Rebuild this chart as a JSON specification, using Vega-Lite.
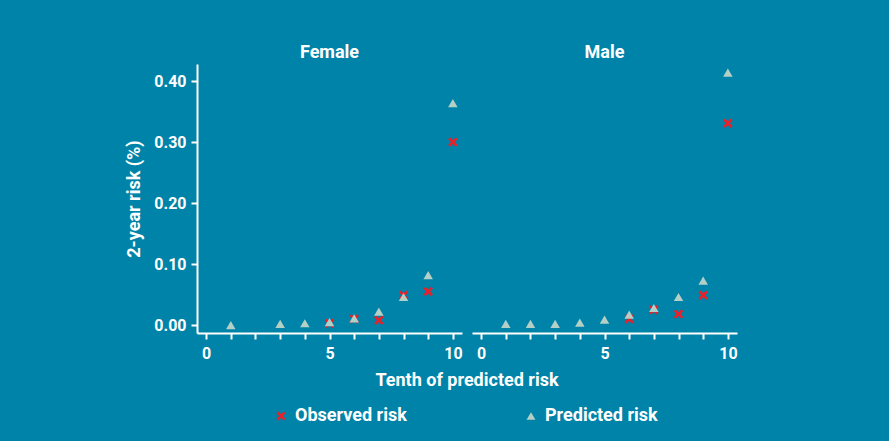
{
  "$schema": "https://vega.github.io/schema/vega-lite/v6.json",
  "background": "#0083a8",
  "padding": {"left": 125, "top": 44, "right": 152, "bottom": 16},
  "data": {
    "values": [
      {"sex": "Female", "decile": 1, "series": "Predicted risk", "risk": 0.000},
      {"sex": "Female", "decile": 3, "series": "Predicted risk", "risk": 0.002},
      {"sex": "Female", "decile": 4, "series": "Predicted risk", "risk": 0.003},
      {"sex": "Female", "decile": 5, "series": "Observed risk", "risk": 0.003},
      {"sex": "Female", "decile": 5, "series": "Predicted risk", "risk": 0.005},
      {"sex": "Female", "decile": 6, "series": "Observed risk", "risk": 0.010},
      {"sex": "Female", "decile": 6, "series": "Predicted risk", "risk": 0.011},
      {"sex": "Female", "decile": 7, "series": "Observed risk", "risk": 0.008},
      {"sex": "Female", "decile": 7, "series": "Predicted risk", "risk": 0.022},
      {"sex": "Female", "decile": 8, "series": "Observed risk", "risk": 0.049},
      {"sex": "Female", "decile": 8, "series": "Predicted risk", "risk": 0.046},
      {"sex": "Female", "decile": 9, "series": "Observed risk", "risk": 0.055},
      {"sex": "Female", "decile": 9, "series": "Predicted risk", "risk": 0.082},
      {"sex": "Female", "decile": 10, "series": "Observed risk", "risk": 0.300},
      {"sex": "Female", "decile": 10, "series": "Predicted risk", "risk": 0.364},
      {"sex": "Male", "decile": 1, "series": "Predicted risk", "risk": 0.002},
      {"sex": "Male", "decile": 2, "series": "Predicted risk", "risk": 0.002},
      {"sex": "Male", "decile": 3, "series": "Predicted risk", "risk": 0.002},
      {"sex": "Male", "decile": 4, "series": "Predicted risk", "risk": 0.004},
      {"sex": "Male", "decile": 5, "series": "Predicted risk", "risk": 0.009},
      {"sex": "Male", "decile": 6, "series": "Observed risk", "risk": 0.010},
      {"sex": "Male", "decile": 6, "series": "Predicted risk", "risk": 0.017},
      {"sex": "Male", "decile": 7, "series": "Observed risk", "risk": 0.025},
      {"sex": "Male", "decile": 7, "series": "Predicted risk", "risk": 0.028},
      {"sex": "Male", "decile": 8, "series": "Observed risk", "risk": 0.018},
      {"sex": "Male", "decile": 8, "series": "Predicted risk", "risk": 0.046},
      {"sex": "Male", "decile": 9, "series": "Observed risk", "risk": 0.049},
      {"sex": "Male", "decile": 9, "series": "Predicted risk", "risk": 0.073},
      {"sex": "Male", "decile": 10, "series": "Observed risk", "risk": 0.331},
      {"sex": "Male", "decile": 10, "series": "Predicted risk", "risk": 0.414}
    ]
  },
  "facet": {
    "column": {
      "field": "sex",
      "type": "nominal",
      "title": "Tenth of predicted risk",
      "header": {
        "titleOrient": "bottom",
        "labelOrient": "top",
        "labelFont": "Roboto",
        "labelFontWeight": "bold",
        "labelFontSize": 18,
        "labelColor": "white",
        "labelPadding": 2,
        "titleFont": "Roboto",
        "titleFontWeight": "bold",
        "titleFontSize": 18,
        "titleColor": "white",
        "titlePadding": 1
      }
    }
  },
  "spacing": 10,
  "spec": {
    "width": 265,
    "height": 269,
    "mark": {"type": "point", "filled": true, "opacity": 1},
    "encoding": {
      "x": {
        "field": "decile",
        "type": "quantitative",
        "scale": {"domain": [-0.37, 10.37], "nice": false, "zero": false},
        "axis": {
          "title": null,
          "values": [0, 1, 2, 3, 4, 5, 6, 7, 8, 9, 10],
          "labelExpr": "datum.value % 5 === 0 ? datum.label : ''",
          "labelPadding": 6
        }
      },
      "y": {
        "field": "risk",
        "type": "quantitative",
        "scale": {"domain": [-0.013, 0.428], "nice": false, "zero": false},
        "axis": {
          "title": "2-year risk (%)",
          "values": [0, 0.1, 0.2, 0.3, 0.4],
          "format": ".2f",
          "labelPadding": 5,
          "titlePadding": 10
        }
      },
      "shape": {
        "field": "series",
        "type": "nominal",
        "scale": {
          "domain": ["Observed risk", "Predicted risk"],
          "range": ["M-1,-0.6L-0.6,-1L0,-0.4L0.6,-1L1,-0.6L0.4,0L1,0.6L0.6,1L0,0.4L-0.6,1L-1,0.6L-0.4,0Z", "triangle-up"]
        },
        "legend": {"title": null, "orient": "none", "legendX": 75, "legendY": 343}
      },
      "color": {
        "field": "series",
        "type": "nominal",
        "scale": {"domain": ["Observed risk", "Predicted risk"], "range": ["#e8202a", "#b4cfc6"]},
        "legend": {"title": null, "orient": "none", "legendX": 75, "legendY": 343}
      },
      "size": {"value": 90},
      "order": {"field": "series", "sort": "ascending"}
    }
  },
  "config": {
    "view": {"stroke": null},
    "axis": {
      "grid": false,
      "domainColor": "white",
      "domainWidth": 2,
      "tickColor": "white",
      "tickWidth": 2,
      "tickSize": 6,
      "labelColor": "white",
      "labelFont": "Roboto",
      "labelFontWeight": "bold",
      "labelFontSize": 16,
      "titleColor": "white",
      "titleFont": "Roboto",
      "titleFontWeight": "bold",
      "titleFontSize": 18
    },
    "legend": {
      "direction": "horizontal",
      "labelColor": "white",
      "labelFont": "Roboto",
      "labelFontWeight": "bold",
      "labelFontSize": 18,
      "symbolSize": 80,
      "columnPadding": 115,
      "labelOffset": 5
    }
  }
}
